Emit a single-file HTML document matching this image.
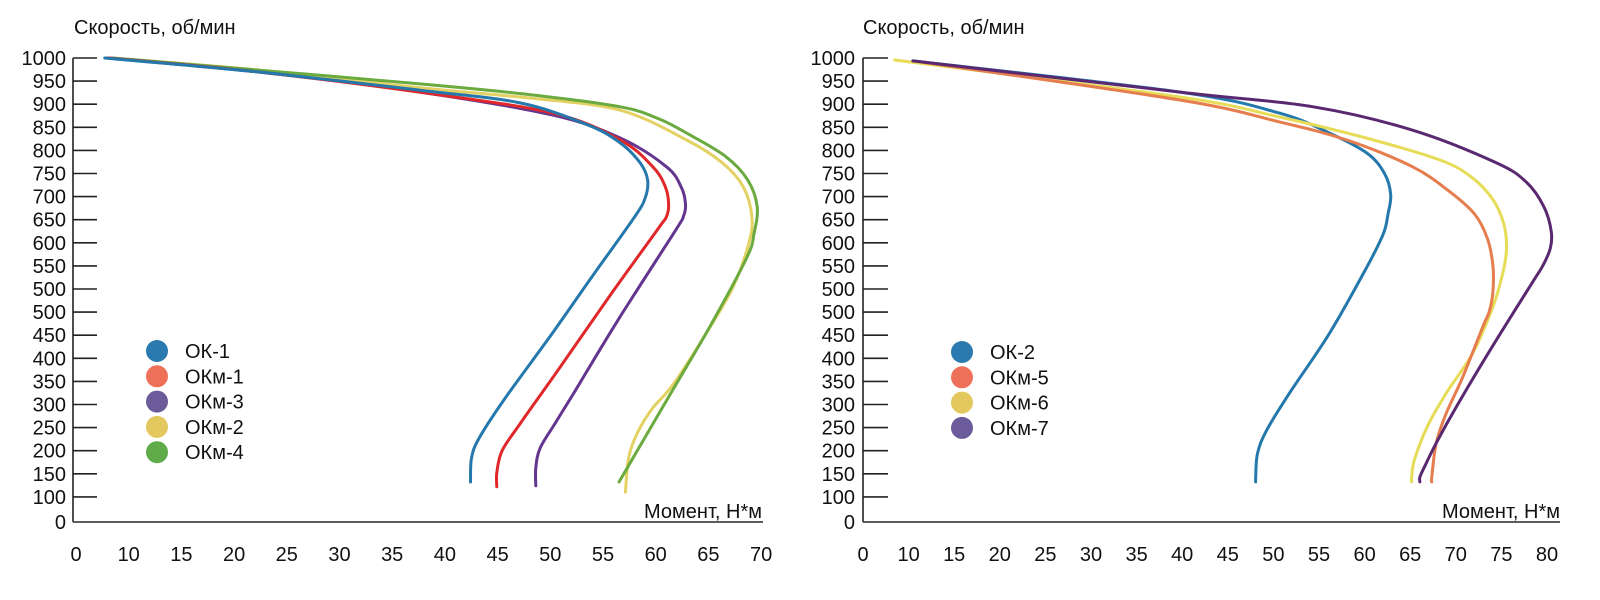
<!DOCTYPE html>
<html><head><meta charset="utf-8"><style>
html,body{margin:0;padding:0;background:#fff;}
svg{display:block;font-family:"Liberation Sans",sans-serif;}
</style></head><body>
<svg id="chart" width="1600" height="600" viewBox="0 0 1600 600" xmlns="http://www.w3.org/2000/svg"></svg>
<script>
// ---- labels ----
const yTickLabels = ["1000","950","900","850","800","750","700","650","600","550","500","500","450","400","350","300","250","200","150","100"];
const xTickLabelsL = ["0","10","15","20","25","30","35","40","45","50","55","60","65","70"];
const xTickLabelsR = ["0","10","15","20","25","30","35","40","45","50","55","60","65","70","75","80"];
const namesL = ["ОК-1","ОКм-1","ОКм-3","ОКм-2","ОКм-4"];
const namesR = ["ОК-2","ОКм-5","ОКм-6","ОКм-7"];
// ---- data (left chart) ----
const ok1X = [7.7,22.4,37.6,47.1,53.5,56.6,58.5,59.2,59.0,58.0,54.2,50.3,45.6,43.2,42.5,42.4];
const ok1Y = [1000,971,934,908,863,826,785,750,715,675,560,440,300,220,180,131];
const okm1X = [8.0,22.4,37.6,50.2,56.6,59.7,60.9,61.2,61.0,60.2,55.8,50.7,47.1,45.4,44.9,44.9];
const okm1Y = [1000,971,930,887,832,777,735,700,675,650,518,360,250,195,150,121];
const okm3X = [8.0,22.4,37.6,50.2,56.6,61.0,62.4,62.8,62.6,61.8,56.4,52.2,50.4,49.0,48.6,48.6];
const okm3Y = [1000,971,930,883,836,777,735,700,675,645,463,313,250,200,160,123];
const okm2X = [8.3,22.4,37.6,48.0,56.6,62.9,66.3,68.3,69.1,68.8,67.3,64.6,61.6,59.6,58.2,57.4,57.1];
const okm2Y = [1000,975,939,918,893,832,785,735,674,620,530,430,330,280,230,180,110];
const okm4X = [8.5,22.4,37.6,48.0,56.6,60.3,62.9,66.5,68.7,69.6,69.3,68.6,65.1,61.6,59.3,56.5];
const okm4Y = [1000,975,947,925,900,875,846,800,750,695,640,590,449,320,235,131];
// ---- data (right chart) ----
const ok2X = [10.2,39.5,50.4,55.9,60.0,61.9,62.6,62.3,61.8,60.0,55.9,51.5,49.0,48.0,47.8,47.8];
const ok2Y = [994,930,887,846,805,764,720,680,640,572,436,313,237,190,141,131];
const okm5X = [11.0,39.5,50.4,57.8,65.0,69.0,71.8,73.2,73.8,73.8,73.4,72.7,70.5,68.7,67.6,67.1,67.1];
const okm5Y = [992,914,869,832,777,727,680,630,575,520,480,449,346,272,211,141,131];
const okm6X = [8.2,39.5,50.4,59.5,68.0,71.5,73.8,75.0,75.3,74.9,73.8,71.6,68.7,66.6,65.2,64.9,64.9];
const okm6Y = [996,920,879,838,791,755,710,660,610,560,490,395,313,244,176,141,131];
const okm7X = [10.2,39.5,54.1,65.0,74.2,77.5,79.4,80.2,80.1,79.3,78.1,73.5,69.8,67.6,66.3,65.8,65.8];
const okm7Y = [994,930,900,852,785,745,695,645,610,575,539,401,285,211,162,141,131];

const NS="http://www.w3.org/2000/svg";
const svg=document.getElementById('chart');
function mk(tag,attrs,parent){const e=document.createElementNS(NS,tag);for(const k in attrs)e.setAttribute(k,attrs[k]);(parent||svg).appendChild(e);return e;}
function yScale(v){return 58+(1000-v)*0.4878;}
const xScaleL=v=>129+(v-10)*10.54;
const xScaleR=v=>911+(v-10)*9.12;

function pathFrom(xs,ys,xs_){
  const p=xs.map((x,i)=>[xs_(x),yScale(ys[i])]);
  let d="M"+p[0][0].toFixed(1)+","+p[0][1].toFixed(1);
  for(let i=0;i<p.length-1;i++){
    const p0=p[Math.max(i-1,0)],p1=p[i],p2=p[i+1],p3=p[Math.min(i+2,p.length-1)];
    const c1x=p1[0]+(p2[0]-p0[0])/6,c1y=p1[1]+(p2[1]-p0[1])/6;
    const c2x=p2[0]-(p3[0]-p1[0])/6,c2y=p2[1]-(p3[1]-p1[1])/6;
    d+=" C"+c1x.toFixed(1)+","+c1y.toFixed(1)+" "+c2x.toFixed(1)+","+c2y.toFixed(1)+" "+p2[0].toFixed(1)+","+p2[1].toFixed(1);
  }
  return d;
}

function axes(prefix,axX,axEnd,tickEnd,labelRight,xLabels,x0,step,title,titleX,momentX){
  const g=mk('g',{});
  
  
  const yl=mk('line',{x1:axX,y1:58,x2:axX,y2:522,stroke:'#222','stroke-width':1.6},g);
  
  
  const xl=mk('line',{x1:axX,y1:522,x2:axEnd,y2:522,stroke:'#444','stroke-width':1.8},g);
  
  
  yTickLabels.forEach((t,i)=>{
    const y=58+i*23.1;
    const tk=mk('line',{x1:axX,y1:y,x2:tickEnd,y2:y,stroke:'#222','stroke-width':1.6},g);
    
    
    const tx=mk('text',{x:labelRight,y:y+7,'text-anchor':'end','font-size':20,fill:'#111'},g);
    tx.textContent=t;
    
    
  });
  const z=mk('text',{x:labelRight,y:529,'text-anchor':'end','font-size':20,fill:'#111'},g);
  z.textContent="0";
  
  
  xLabels.forEach((t,i)=>{
    const tx=mk('text',{x:x0+i*step,y:561,'text-anchor':'middle','font-size':20,fill:'#111'},g);
    tx.textContent=t;
    
    
  });
  const tt=mk('text',{x:titleX,y:34,'font-size':20,fill:'#111'},g);
  tt.textContent=title;
  
  
  const mt=mk('text',{x:momentX,y:518,'text-anchor':'end','font-size':20,fill:'#111'},g);
  mt.textContent="Момент, Н*м";
  
  
}
axes('left',73,763,97,66,xTickLabelsL,76,52.7,"Скорость, об/мин",74,762);
axes('right',863,1560,888,855,xTickLabelsR,863,45.6,"Скорость, об/мин",863,1560);

function series(name,xs,ys,sc,color){
  const p=mk('path',{d:pathFrom(xs,ys,sc),fill:'none',stroke:color,'stroke-width':3,'stroke-linecap':'round','stroke-linejoin':'round'});
  
  
}
series('line-okm2',okm2X,okm2Y,xScaleL,'#e3d263');
series('line-okm4',okm4X,okm4Y,xScaleL,'#6aaa3e');
series('line-okm3',okm3X,okm3Y,xScaleL,'#64358f');
series('line-okm1',okm1X,okm1Y,xScaleL,'#e0282a');
series('line-ok1',ok1X,ok1Y,xScaleL,'#2478ac');
series('line-ok2',ok2X,ok2Y,xScaleR,'#2478ac');
series('line-okm6',okm6X,okm6Y,xScaleR,'#e7dc57');
series('line-okm5',okm5X,okm5Y,xScaleR,'#e67d4e');
series('line-okm7',okm7X,okm7Y,xScaleR,'#5a2870');

function legend(prefix,names,colors,cx,y0,tx){
  names.forEach((n,i)=>{
    const y=y0+i*25.3;
    const c=mk('circle',{cx:cx,cy:y,r:11,fill:colors[i]});
    
    
    const t=mk('text',{x:tx,y:y+7,'font-size':20,fill:'#111'});
    t.textContent=n;
    
    
  });
}
legend('left',namesL,['#2a7ab0','#ee7059','#6b5b9a','#e2c85e','#5fab4a'],157,351,185);
legend('right',namesR,['#2a7ab0','#ee7059','#e2c85e','#6b5b9a'],962,352,990);
</script>
</body></html>
